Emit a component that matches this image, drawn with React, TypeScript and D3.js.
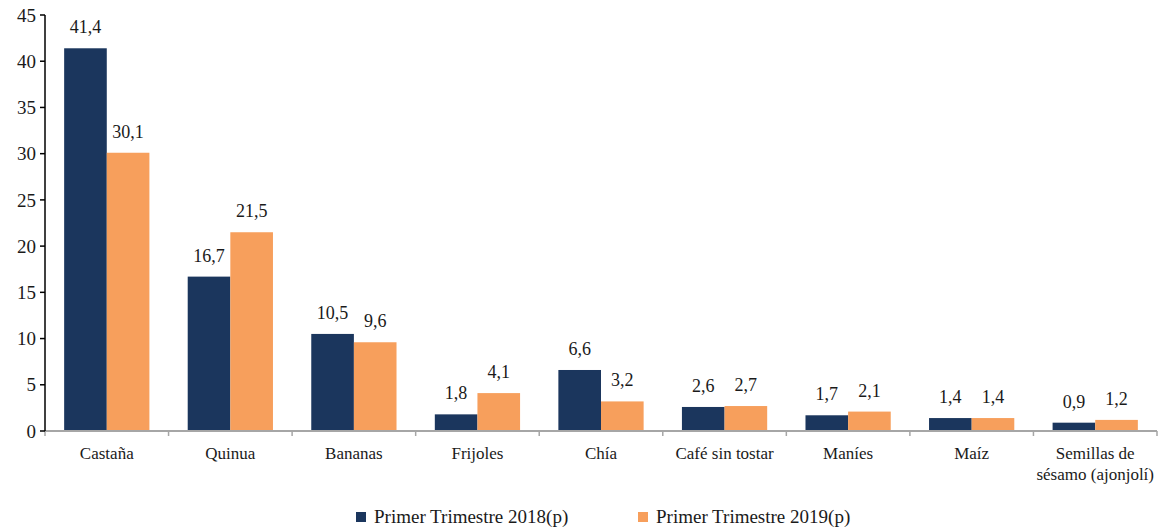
import React from 'react';
import * as d3 from 'd3';

const categories = [
  'Castaña',
  'Quinua',
  'Bananas',
  'Frijoles',
  'Chía',
  'Café sin tostar',
  'Maníes',
  'Maíz',
  'Semillas de|sésamo (ajonjolí)'
];
const series2018 = [41.4, 16.7, 10.5, 1.8, 6.6, 2.6, 1.7, 1.4, 0.9];
const series2019 = [30.1, 21.5, 9.6, 4.1, 3.2, 2.7, 2.1, 1.4, 1.2];
const seriesNames = ['Primer Trimestre 2018(p)', 'Primer Trimestre 2019(p)'];
const yTicks = [0, 5, 10, 15, 20, 25, 30, 35, 40, 45];

const WIDTH = 1160;
const HEIGHT = 531;
const FONT = "'Liberation Serif', 'Times New Roman', serif";
const NAVY = '#1B365D';
const ORANGE = '#F79F5C';
const TEXT = '#1a1a1a';

const margin = { top: 15, right: 3, bottom: 100, left: 45 };
const innerWidth = WIDTH - margin.left - margin.right;
const innerHeight = HEIGHT - margin.top - margin.bottom;

export default function App() {
  const x0 = d3.scaleBand<string>().domain(categories).range([0, innerWidth]).padding(0);
  const groupPad = 0.155;
  const x1 = d3.scaleBand<string>()
    .domain(['2018', '2019'])
    .range([x0.bandwidth() * groupPad, x0.bandwidth() * (1 - groupPad)]);
  const y = d3.scaleLinear().domain([0, 45]).range([innerHeight, 0]);

  const fmt = (v: number) => v.toFixed(1).replace('.', ',');
  const bounds = categories.map(c => x0(c)!).concat([innerWidth]);

  const legendItems = [
    { label: seriesNames[0], color: NAVY, x: 356 },
    { label: seriesNames[1], color: ORANGE, x: 638 }
  ];

  return (
    <svg
      width={WIDTH}
      height={HEIGHT}
      fontFamily={FONT}
      style={{ position: 'absolute', left: 0, top: 0, background: '#fff', fontFamily: FONT }}
    >
      <g transform={`translate(${margin.left},${margin.top})`}>
        {categories.map((c, i) => {
          const vals = [
            { key: '2018', v: series2018[i], color: NAVY },
            { key: '2019', v: series2019[i], color: ORANGE }
          ];
          return (
            <g key={c} transform={`translate(${x0(c)},0)`}>
              {vals.map(d => (
                <rect
                  key={d.key}
                  x={x1(d.key)}
                  width={x1.bandwidth()}
                  y={y(d.v)}
                  height={innerHeight - y(d.v)}
                  fill={d.color}
                />
              ))}
              {vals.map(d => (
                <text
                  key={'t' + d.key}
                  x={x1(d.key)! + x1.bandwidth() / 2}
                  y={y(d.v) - 15}
                  textAnchor="middle"
                  fontSize={18}
                  fill={TEXT}
                >
                  {fmt(d.v)}
                </text>
              ))}
            </g>
          );
        })}

        {/* x axis */}
        <line x1={0} x2={innerWidth} y1={innerHeight} y2={innerHeight} stroke="#a6a6a6" strokeWidth={2} />
        {bounds.map((b, i) => (
          <line key={i} x1={b} x2={b} y1={innerHeight} y2={innerHeight + 5} stroke="#a6a6a6" strokeWidth={1.5} />
        ))}
        {categories.map(c => {
          const cx = x0(c)! + x0.bandwidth() / 2;
          return (
            <text key={c} x={cx} y={innerHeight + 28} textAnchor="middle" fontSize={17} fill={TEXT}>
              {c.split('|').map((ln, i) => (
                <tspan key={i} x={cx} dy={i === 0 ? 0 : 21}>{ln}</tspan>
              ))}
            </text>
          );
        })}

        {/* y axis */}
        <line x1={0} x2={0} y1={0} y2={innerHeight} stroke="#000" strokeWidth={1.5} />
        {yTicks.map(t => (
          <g key={t}>
            <line x1={-5} x2={0} y1={y(t)} y2={y(t)} stroke="#000" strokeWidth={1.5} />
            <text x={-9} y={y(t)} dy="0.35em" textAnchor="end" fontSize={19} fill={TEXT}>
              {t}
            </text>
          </g>
        ))}
      </g>

      {legendItems.map(item => (
        <g key={item.label}>
          <rect x={item.x} y={512} width={10} height={10} fill={item.color} />
          <text x={item.x + 18} y={523} fontSize={19} fill={TEXT}>
            {item.label}
          </text>
        </g>
      ))}
    </svg>
  );
}
